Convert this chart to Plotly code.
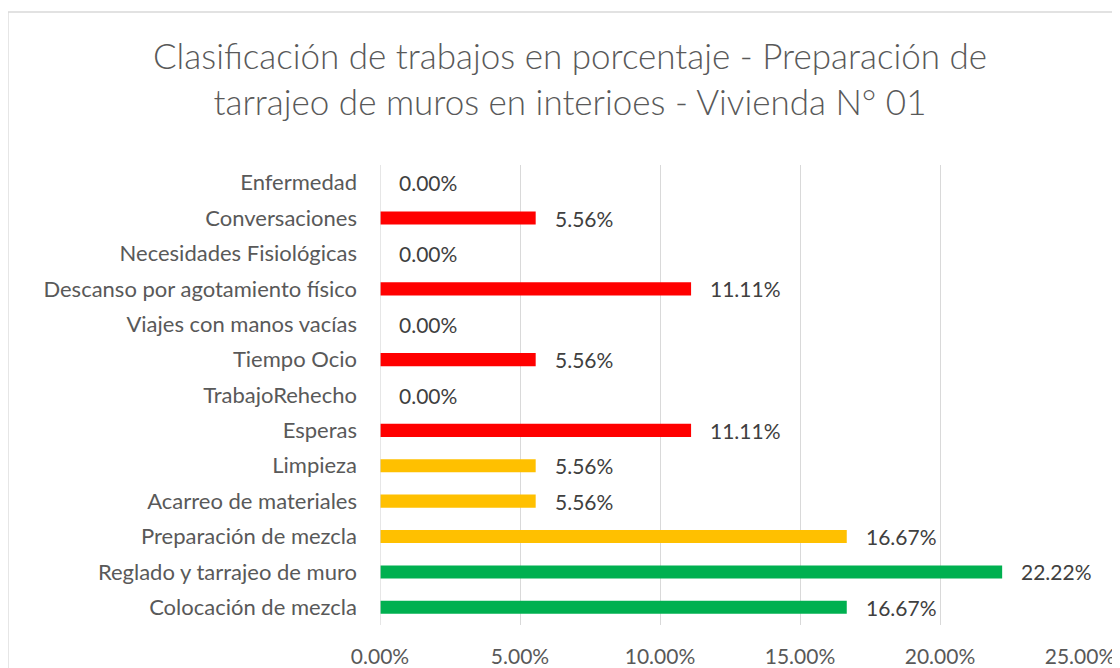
import plotly.graph_objects as go

categories = [
    "Colocación de mezcla",
    "Reglado y tarrajeo de muro",
    "Preparación de mezcla",
    "Acarreo de materiales",
    "Limpieza",
    "Esperas",
    "TrabajoRehecho",
    "Tiempo Ocio",
    "Viajes con manos vacías",
    "Descanso por agotamiento físico",
    "Necesidades Fisiológicas",
    "Conversaciones",
    "Enfermedad",
]
values = [16.67, 22.22, 16.67, 5.56, 5.56, 11.11, 0.00, 5.56, 0.00, 11.11, 0.00, 5.56, 0.00]
groups = ["TP", "TP", "TC", "TC", "TC", "TNC", "TNC", "TNC", "TNC", "TNC", "TNC", "TNC", "TNC"]
group_colors = {"TP": "#00B050", "TC": "#FFC000", "TNC": "#FF0000"}
x_ticks = [0, 5, 10, 15, 20, 25]
x_tick_labels = ["0.00%", "5.00%", "10.00%", "15.00%", "20.00%", "25.00%"]

FONT = "Lato"
OFF = 8  # page body margin offset
W, H = 1120 - OFF, 668 - OFF
ML, MR, MT, MB = 380 - OFF, 40, 165 - OFF, 43

fig = go.Figure()
fig.add_trace(go.Bar(
    y=categories,
    x=values,
    orientation="h",
    marker=dict(color=[group_colors[g] for g in groups], line=dict(width=0)),
    width=0.37,
    hoverinfo="x+y",
))

for c, v in zip(categories, values):
    fig.add_annotation(
        x=v, y=c, xref="x", yref="y",
        text=f"{v:.2f}%", showarrow=False,
        xanchor="left", yanchor="middle", xshift=17,
        font=dict(family=FONT, size=21, color="#404040"),
    )

pw = W - ML - MR
ph = H - MT - MB
fig.add_shape(
    type="rect", xref="paper", yref="paper",
    x0=(0 - ML) / pw, x1=(W + 50 - ML) / pw,
    y0=-(MB + 50) / ph, y1=(H - MB - 4) / ph,
    line=dict(color="#D9D9D9", width=1.3), fillcolor="rgba(0,0,0,0)", layer="below",
)

fig.update_layout(
    width=W, height=H,
    margin=dict(l=ML, r=MR, t=MT, b=MB, autoexpand=False),
    paper_bgcolor="white", plot_bgcolor="white",
    showlegend=False,
    title=dict(
        text="Clasificación de trabajos en porcentaje - Preparación de<br>tarrajeo de muros en interioes - Vivienda N° 01",
        x=(570 - OFF) / W, xanchor="center", xref="container",
        y=1 - 61 / H, yanchor="top", yref="container",
        font=dict(family=FONT, size=35, color="#595959", weight=300),
    ),
    xaxis=dict(
        range=[0, 25], tickvals=x_ticks, ticktext=x_tick_labels,
        showgrid=True, gridcolor="#D9D9D9", gridwidth=1.3,
        zeroline=False, showline=False, ticks="",
        ticklabelstandoff=17, automargin=False,
        tickfont=dict(family=FONT, size=21, color="#595959"),
        fixedrange=True,
    ),
    yaxis=dict(
        categoryorder="array", categoryarray=categories,
        showgrid=False, zeroline=False, showline=False, ticks="",
        ticklabelstandoff=22, automargin=False,
        tickfont=dict(family=FONT, size=22, color="#595959"),
        range=[-0.5, len(categories) - 0.5],
        fixedrange=True,
    ),
    bargap=0.6,
)
fig.add_vline(x=0, line=dict(color="#D9D9D9", width=1.3))

fig.write_html("out.html")
